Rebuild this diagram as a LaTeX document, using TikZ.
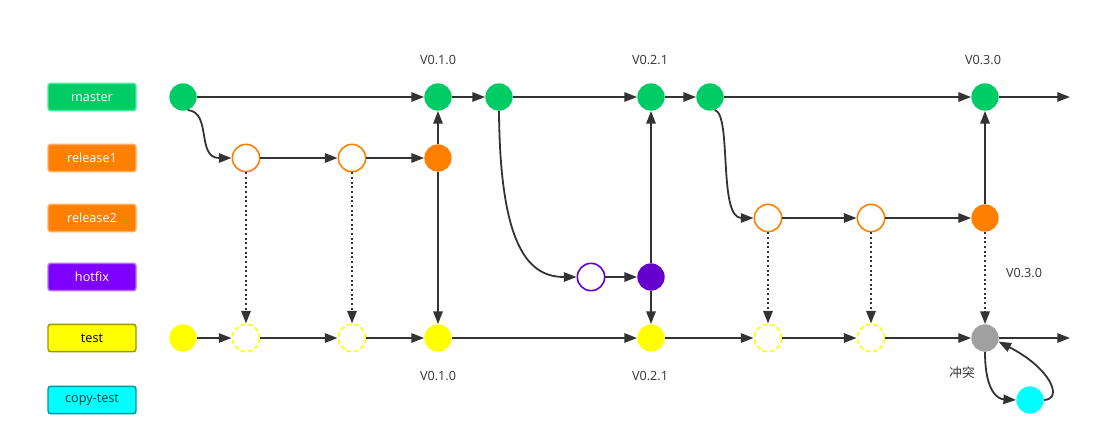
\documentclass[tikz,border=0pt]{standalone}
\usepackage{fontspec}
\setmainfont{Open Sans}
\newfontfamily\cjkfont{Noto Sans CJK SC}
\usepackage{tikz}
\usetikzlibrary{arrows.meta}

\definecolor{linkgray}{HTML}{333333}
\definecolor{mastergreen}{HTML}{00CC66}
\definecolor{masterrim}{HTML}{44EE9E}
\definecolor{releaseorange}{HTML}{FF8000}
\definecolor{releaserim}{HTML}{FFB066}
\definecolor{hotfixviolet}{HTML}{8000FF}
\definecolor{hotfixrim}{HTML}{B36BFF}
\definecolor{hotfixcommit}{HTML}{6600CC}
\definecolor{testyellow}{HTML}{FFFF00}
\definecolor{testrim}{HTML}{999900}
\definecolor{copycyan}{HTML}{00FFFF}
\definecolor{copyrim}{HTML}{009999}
\definecolor{conflictgray}{HTML}{A0A0A0}

\begin{document}
\begin{tikzpicture}[x=0.75pt,y=-0.75pt]
    \tikzset{>={Triangle[length=9.5pt,width=7pt]}}
    \tikzset{
      branchbox/.style={rounded corners=2pt, minimum width=66pt, minimum height=20.5pt,
        inner sep=0pt, line width=1.1pt, font=\fontsize{9.5}{11}\selectfont},
      commit/.style={circle, minimum size=20.5pt, inner sep=0pt},
      fullcommit/.style={commit, fill=#1},
      opencommit/.style={commit, draw=#1, fill=white, line width=1.2pt},
      dashcommit/.style={commit, draw=#1, fill=white, line width=1.2pt,
        dash pattern=on 3.5pt off 2pt},
      link/.style={->, draw=linkgray, line width=1.35pt},
      copylink/.style={->, draw=linkgray, line width=1.5pt, dotted},
      tag/.style={font=\fontsize{9.5}{11}\selectfont, text=linkgray}
    }
    \useasboundingbox (0,0) rectangle (1105,444);

    % Branch names
    \node[branchbox, fill=mastergreen, draw=masterrim, text=white] (bmaster) at (92,97) {master};
    \node[branchbox, fill=releaseorange, draw=releaserim, text=white] (brelone) at (92,158) {release1};
    \node[branchbox, fill=releaseorange, draw=releaserim, text=white] (breltwo) at (92,218) {release2};
    \node[branchbox, fill=hotfixviolet, draw=hotfixrim, text=white] (bhotfix) at (92,277) {hotfix};
    \node[branchbox, fill=testyellow, draw=testrim, text=black] (btest) at (92,338) {test};
    \node[branchbox, fill=copycyan, draw=copyrim, text=linkgray] (bcopy) at (92,400) {copy-test};

    % master
    \node[fullcommit=mastergreen] (m0) at (183,97) {};
    \node[fullcommit=mastergreen] (m1) at (438,97) {};
    \node[fullcommit=mastergreen] (m2) at (499,97) {};
    \node[fullcommit=mastergreen] (m3) at (651,97) {};
    \node[fullcommit=mastergreen] (m4) at (710,97) {};
    \node[fullcommit=mastergreen] (m5) at (985,97) {};
    \coordinate (mend) at (1070,97);

    % release1 and release2
    \node[opencommit=releaseorange] (ra1) at (246,158) {};
    \node[opencommit=releaseorange] (ra2) at (352,158) {};
    \node[fullcommit=releaseorange] (ra3) at (438,158) {};
    \node[opencommit=releaseorange] (rb1) at (768,218) {};
    \node[opencommit=releaseorange] (rb2) at (871,218) {};
    \node[fullcommit=releaseorange] (rb3) at (985,218) {};

    % hotfix
    \node[opencommit=hotfixcommit] (h1) at (591,277) {};
    \node[fullcommit=hotfixcommit] (h2) at (651,277) {};

    % test and copy-test
    \node[fullcommit=testyellow] (t0) at (183,338) {};
    \node[dashcommit=testyellow] (t1) at (246,338) {};
    \node[dashcommit=testyellow] (t2) at (352,338) {};
    \node[fullcommit=testyellow] (t3) at (438,338) {};
    \node[fullcommit=testyellow] (t4) at (651,338) {};
    \node[dashcommit=testyellow] (t5) at (768,338) {};
    \node[dashcommit=testyellow] (t6) at (871,338) {};
    \node[fullcommit=conflictgray] (t7) at (985,338) {};
    \coordinate (tend) at (1070,338);
    \node[fullcommit=copycyan] (c1) at (1030,400) {};

    % Version tags
    \node[tag] (vma) at (438,60) {V0.1.0};
    \node[tag] (vmb) at (650,60) {V0.2.1};
    \node[tag] (vmc) at (983,60) {V0.3.0};
    \node[tag] (vta) at (438,376) {V0.1.0};
    \node[tag] (vtb) at (650,376) {V0.2.1};
    \node[tag] (vtc) at (1024,273) {V0.3.0};
    \node[tag, font=\fontsize{9.5}{11}\selectfont\cjkfont] (clash) at (962,373) {冲突};

    % Draw the master line
    \draw[link] (m0) -- (m1);
    \draw[link] (m1) -- (m2);
    \draw[link] (m2) -- (m3);
    \draw[link] (m3) -- (m4);
    \draw[link] (m4) -- (m5);
    \draw[link] (m5) -- (mend);

    % Draw the branches
    \draw[link] (m0.-70) .. controls (212,112) and (196,158) .. (ra1.west);
    \draw[link] (ra1) -- (ra2);
    \draw[link] (ra2) -- (ra3);
    \draw[link] (ra3) -- (m1);
    \draw[link] (ra3) -- (t3);

    \draw[link] (m2.south) .. controls (500,250) and (530,277) .. (h1.west);
    \draw[link] (h1) -- (h2);
    \draw[link] (h2) -- (m3);
    \draw[link] (h2) -- (t4);

    \draw[link] (m4.-70) .. controls (732,114) and (718,218) .. (rb1.west);
    \draw[link] (rb1) -- (rb2);
    \draw[link] (rb2) -- (rb3);
    \draw[link] (rb3) -- (m5);

    % Copies into test
    \draw[copylink] (ra1) -- (t1);
    \draw[copylink] (ra2) -- (t2);
    \draw[copylink] (rb1) -- (t5);
    \draw[copylink] (rb2) -- (t6);
    \draw[copylink] (rb3) -- (t7);

    % Draw the test line
    \draw[link] (t0) -- (t1);
    \draw[link] (t1) -- (t2);
    \draw[link] (t2) -- (t3);
    \draw[link] (t3) -- (t4);
    \draw[link] (t4) -- (t5);
    \draw[link] (t5) -- (t6);
    \draw[link] (t6) -- (t7);
    \draw[link] (t7) -- (tend);

    \draw[link] (t7.south) .. controls (985,392) and (998,399) .. (c1.west);
    \draw[link] (c1.east) .. controls (1064,399) and (1050,368) .. (t7.-15);
\end{tikzpicture}
\end{document}
